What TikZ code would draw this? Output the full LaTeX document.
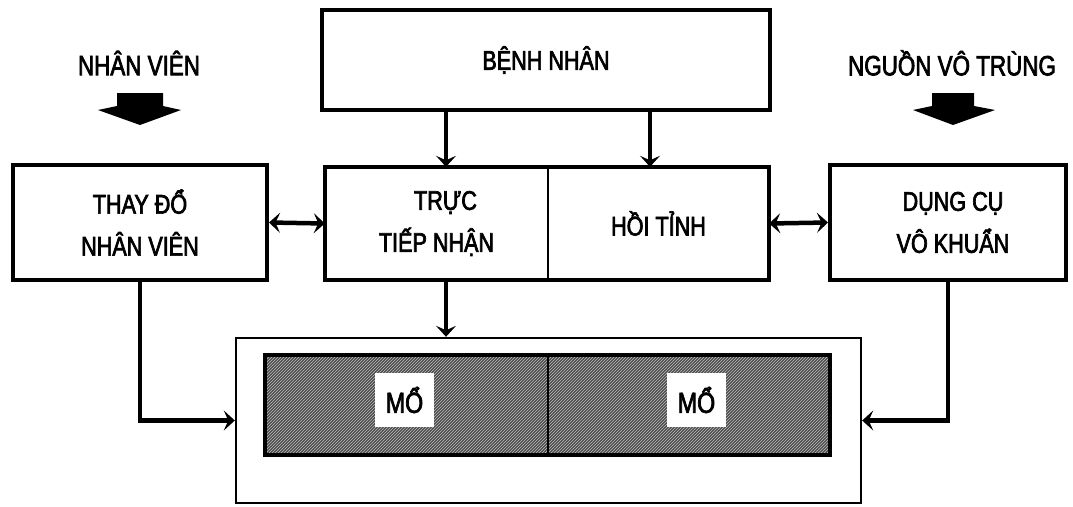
\documentclass[tikz,border=0pt]{standalone}
\usepackage{fontspec}
\setmainfont{Liberation Sans}[FakeStretch=0.8,FakeBold=2.5]
\usetikzlibrary{arrows.meta,patterns,calc}
\begin{document}
\begin{tikzpicture}[x=1pt,y=-1pt,
  boxx/.style={draw=black,line width=4pt,align=center,inner sep=0pt,font=\fontsize{27}{42}\selectfont},
  half/.style={align=center,inner sep=0pt,font=\fontsize{27}{42}\selectfont},
  lbl/.style={font=\fontsize{28}{30}\selectfont,inner sep=0pt},
  conn/.style={line width=4.5pt,-{Stealth[length=11pt,width=20pt,inset=4.5pt]}},
  dconn/.style={line width=4.5pt,{Stealth[length=11pt,width=20pt,inset=4.5pt]}-{Stealth[length=11pt,width=20pt,inset=4.5pt]}},
  blk/.style={fill=black}]
\useasboundingbox (0,0) rectangle (1073,506);
% top labels
\node[lbl] (nv) at (139,63) {NHÂN VIÊN};
\node[lbl] (nvt) at (952,63) {NGUỒN VÔ TRÙNG};
\fill[blk] (117,93) -- (163,93) -- (163,106) -- (181,110) -- (140,125) -- (98,110) -- (117,106) -- cycle;
\fill[blk] (932,93) -- (974,93) -- (974,106) -- (995,110) -- (953,125) -- (913,110) -- (932,106) -- cycle;
% boxes
\node[boxx,minimum width=448pt,minimum height=100pt] (bn) at (546,60) {BỆNH NHÂN};
\node[half,minimum width=223pt,minimum height=113pt] (tt) at (436.5,223.5) {\hspace*{18pt}TRỰC\\TIẾP NHẬN};
\node[half,minimum width=221pt,minimum height=113pt] (ht) at (658.5,223.5) {HỒI TỈNH};
\draw[line width=4pt] (tt.north west) rectangle (ht.south east);
\draw[line width=2pt] (tt.north east) -- (tt.south east);
\node[boxx,minimum width=254pt,minimum height=115pt] (tnv) at (140,222.5) {THAY ĐỔ\\NHÂN VIÊN};
\node[boxx,minimum width=236pt,minimum height=115pt] (dc) at (948,222.5) {\hspace*{10pt}DỤNG CỤ\\\hspace*{10pt}VÔ KHUẨN};
% outer operating box
\node[draw=black,line width=2.4pt,minimum width=625pt,minimum height=165pt,inner sep=0pt] (ob) at (548.5,420.5) {};
% hatched area
\fill[black!70] (265,355) rectangle (830,455);
\fill[pattern=north east lines,pattern color=white!75!black] (265,355) rectangle (830,455);
\draw[line width=4.5pt] (265,355) rectangle (830,455);
\draw[line width=2pt] (548,355) -- (548,455);
\node[fill=white,minimum width=59pt,minimum height=54pt,inner sep=0pt,font=\fontsize{29}{30}\selectfont] (m1) at (404.5,400) {MỔ};
\node[fill=white,minimum width=59pt,minimum height=54pt,inner sep=0pt,font=\fontsize{29}{30}\selectfont] (m2) at (696.5,400) {MỔ};
% connectors
\coordinate (xa) at (446,0);
\coordinate (xb) at (650,0);
\draw[conn] (bn.south -| xa) -- (tt.north -| xa);
\draw[conn] (bn.south -| xb) -- (ht.north -| xb);
\draw[conn] (tt.south -| xa) -- (ob.north -| xa);
\draw[dconn] (tnv.east) -- (tt.west);
\draw[dconn] (ht.east) -- (dc.west);
\draw[conn] (tnv.south) |- (ob.west);
\draw[conn] (dc.south) |- (ob.east);
\end{tikzpicture}
\end{document}
